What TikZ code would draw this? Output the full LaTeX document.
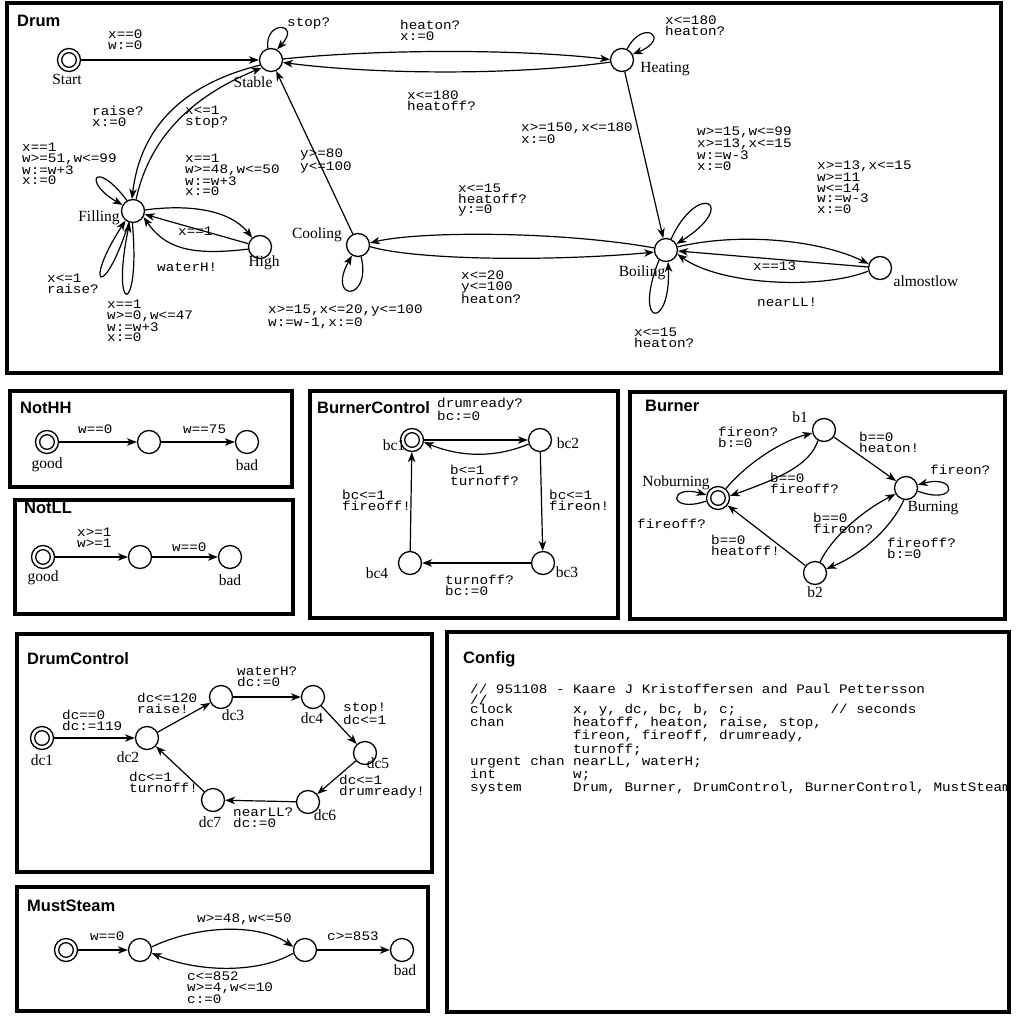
\documentclass[tikz,border=0pt]{standalone}
\usepackage{fontspec}
\setmainfont{Liberation Serif}
\newfontfamily\monof[FakeStretch=1.1]{Liberation Mono}
\newfontfamily\titlef{Liberation Sans}
\usetikzlibrary{arrows.meta}
\newlength\cwd
\setlength\cwd{8.58pt}
\begin{document}
\begin{tikzpicture}[x=1pt,y=-1pt,
  st/.style={circle,draw,line width=1.3pt,minimum size=23pt,inner sep=0pt},
  init/.style={st,path picture={\draw[line width=1.3pt] (path picture bounding box.center) circle[radius=7.3pt];}},
  edge/.style={line width=1.2pt,-{Stealth[length=10pt,width=7.5pt,inset=3pt]}},
  lbl/.style={anchor=north west,inner sep=0pt,align=left,font=\monof\fontsize{13}{10.5}\selectfont},
  nl/.style={inner sep=0pt,font=\fontsize{15.5}{17}\selectfont},
  ttl/.style={anchor=base west,inner sep=0pt,font=\titlef\bfseries\fontsize{16.5}{18}\selectfont},
  panel/.style={line width=4pt}]
\fill[white] (0,0) rectangle (1015,1019);
\useasboundingbox (0,0) rectangle (1015,1019);

% ---------------- panels
\draw[panel] (7,3) rectangle (1001,373);
\draw[panel] (10,391) rectangle (292,487);
\draw[panel] (15,500) rectangle (293,614);
\draw[panel] (310,391) rectangle (618,618);
\draw[panel] (630,392) rectangle (1005,619);
\draw[panel] (17,634) rectangle (432,872);
\draw[panel] (17,887) rectangle (428,1011);
\draw[panel] (446.5,632) rectangle (1009,1012);

\node[ttl] (tDrum) at (17,27) {Drum};
\node[ttl] (tNotHH) at (20,413) {NotHH};
\node[ttl] (tNotLL) at (24,513) {NotLL};
\node[ttl] (tBC) at (317,413) {BurnerControl};
\node[ttl] (tBurner) at (645,411) {Burner};
\node[ttl] (tDC) at (27,664) {DrumControl};
\node[ttl] (tMS) at (27,911) {MustSteam};
\node[ttl] (tConfig) at (463,663) {Config};

% ---------------- Drum
\node[init] (Start) at (69,60) {};
\node[st] (Stable) at (271,60) {};
\node[st] (Heating) at (622,60) {};
\node[st] (Filling) at (133,211) {};
\node[st] (High) at (260,247) {};
\node[st] (Cooling) at (358,245) {};
\node[st] (Boiling) at (666,250) {};
\node[st] (almostlow) at (880,268) {};

\node[nl] (nStart) at (67,79) {Start};
\node[nl] (nStable) at (253,82) {Stable};
\node[nl] (nHeating) at (665,69) {Heating};
\node[nl] (nFilling) at (99,218) {Filling};
\node[nl] (nHigh) at (264,263) {High};
\node[nl] (nCooling) at (317,235) {Cooling};
\node[nl] (nBoiling) at (642,273) {Boiling};
\node[nl] (nalmostlow) at (926,281) {almostlow};

\draw[edge] (Start) -- (Stable);
\draw[edge] (Stable.105) .. controls (264,20) and (302,22) .. (Stable.60);
\draw[edge] (Stable.5) .. controls (380,49) and (520,49) .. (Heating.178);
\draw[edge] (Heating.190) .. controls (520,75) and (380,75) .. (Stable.-12);
\draw[edge] (Heating.65) .. controls (643,18) and (672,38) .. (Heating.28);
\draw[edge] (Heating) -- (Boiling);
\draw[edge] (Cooling) -- (Stable);
\draw[edge] (Boiling.170) .. controls (560,231) and (420,231) .. (Cooling.10);
\draw[edge] (Cooling.-8) .. controls (420,261) and (560,261) .. (Boiling.190);
\draw[edge] (Cooling.-75) .. controls (372,302) and (326,302) .. (Cooling.-120);
\draw[edge] (Boiling.65) .. controls (698,180) and (740,204) .. (Boiling.30);
\draw[edge] (Boiling.-125) .. controls (632,328) and (671,331) .. (Boiling.-80);
\draw[edge] (Boiling.15) .. controls (740,232) and (820,240) .. (almostlow.160);
\draw[edge] (almostlow) -- (Boiling);
\draw[edge] (almostlow.195) .. controls (820,290) and (720,285) .. (Boiling.-20);
\draw[edge] (Stable.205) .. controls (180,85) and (140,130) .. (Filling.95);
\draw[edge] (Filling.75) .. controls (150,135) and (195,95) .. (Stable.220);
\draw[edge] (Filling.120) .. controls (95,158) and (82,182) .. (Filling.150);
\draw[edge] (Filling.-110) .. controls (104,302) and (82,287) .. (Filling.-128);
\draw[edge] (Filling.-93) .. controls (141,318) and (110,316) .. (Filling.-106);
\draw[edge] (Filling.5) .. controls (190,204) and (230,210) .. (High.130);
\draw[edge] (High) -- (Filling);
\draw[edge] (High.190) .. controls (190,256) and (165,248) .. (Filling.-30);

\node[lbl] (l1) at (108,30) {x==0\\w:=0};
\node[lbl] (l2) at (287,18) {stop?};
\node[lbl] (l3) at (92,106) {raise?\\x:=0};
\node[lbl] (l4) at (185,106) {x<=1\\stop?};
\node[lbl] (l5) at (22,143) {x==1\\w>=51,w<=99\\w:=w+3\\x:=0};
\node[lbl] (l6) at (185,154) {x==1\\w>=48,w<=50\\w:=w+3\\x:=0};
\node[lbl] (l7) at (178,227) {x==1};
\node[lbl] (l8) at (157,263) {waterH!};
\node[lbl] (l9) at (47,274) {x<=1\\raise?};
\node[lbl] (l10) at (107,300) {x==1\\w>=0,w<=47\\w:=w+3\\x:=0};
\node[lbl] (l11) at (300,149) {y>=80\\y<=100};
\node[lbl] (l12) at (268,305) {x>=15,x<=20,y<=100\\w:=w-1,x:=0};
\node[lbl] (l13) at (400,20) {heaton?\\x:=0};
\node[lbl] (l14) at (407,91) {x<=180\\heatoff?};
\node[lbl] (l15) at (521,123) {x>=150,x<=180\\x:=0};
\node[lbl] (l16) at (458,184) {x<=15\\heatoff?\\y:=0};
\node[lbl] (l17) at (461,271) {x<=20\\y<=100\\heaton?};
\node[lbl] (l18) at (665,16) {x<=180\\heaton?};
\node[lbl] (l19) at (697,127) {w>=15,w<=99\\x>=13,x<=15\\w:=w-3\\x:=0};
\node[lbl] (l20) at (817,161) {x>=13,x<=15\\w>=11\\w<=14\\w:=w-3\\x:=0};
\node[lbl] (l21) at (753,262) {x==13};
\node[lbl] (l22) at (757,298) {nearLL!};
\node[lbl] (l23) at (634,328) {x<=15\\heaton?};

% ---------------- NotHH
\node[init] (hg) at (47,442) {};
\node[st] (hm) at (149,442) {};
\node[st] (hb) at (247,442) {};
\node[nl] (nhg) at (47,465) {good};
\node[nl] (nhb) at (247,465) {bad};
\draw[edge] (hg) -- (hm);
\draw[edge] (hm) -- (hb);
\node[lbl] (lh1) at (78,425) {w==0};
\node[lbl] (lh2) at (183,425) {w==75};

% ---------------- NotLL
\node[init] (lg) at (43,557) {};
\node[st] (lm) at (140,557) {};
\node[st] (lb) at (230,557) {};
\node[nl] (nlg) at (43,578) {good};
\node[nl] (nlb) at (230,580) {bad};
\draw[edge] (lg) -- (lm);
\draw[edge] (lm) -- (lb);
\node[lbl] (ll1) at (77,528) {x>=1\\w>=1};
\node[lbl] (ll2) at (172,543) {w==0};

% ---------------- BurnerControl
\node[init] (bc1) at (412,440) {};
\node[st] (bc2) at (540,440) {};
\node[st] (bc3) at (543,563) {};
\node[st] (bc4) at (410,563) {};
\node[nl] (nbc1) at (394,445) {bc1};
\node[nl] (nbc2) at (568,443) {bc2};
\node[nl] (nbc3) at (567,572) {bc3};
\node[nl] (nbc4) at (377,573) {bc4};
\draw[edge] (bc1) -- (bc2);
\draw[edge] (bc2.200) .. controls (490,460) and (455,455) .. (bc1.-10);
\draw[edge] (bc2) -- (bc3);
\draw[edge] (bc3) -- (bc4);
\draw[edge] (bc4) -- (bc1);
\node[lbl] (lb1) at (437,398) {drumready?\\bc:=0};
\node[lbl] (lb2) at (450,465) {b<=1\\turnoff?};
\node[lbl] (lb3) at (549,490) {bc<=1\\fireon!};
\node[lbl] (lb4) at (342,490) {bc<=1\\fireoff!};
\node[lbl] (lb5) at (445,575) {turnoff?\\bc:=0};

% ---------------- Burner
\node[st] (b1) at (824,430) {};
\node[init] (Noburning) at (718,498) {};
\node[st] (Burning) at (906,488) {};
\node[st] (b2) at (815,573) {};
\node[nl] (nb1) at (800,417) {b1};
\node[nl] (nNoburning) at (676,483) {Noburning};
\node[nl] (nBurning) at (933,508) {Burning};
\node[nl] (nb2) at (815,592) {b2};
\draw[edge] (Noburning.50) .. controls (750,460) and (785,440) .. (b1.195);
\draw[edge] (b1.-120) .. controls (810,465) and (780,478) .. (Noburning.10);
\draw[edge] (b1) -- (Burning);
\draw[edge] (b2) -- (Noburning);
\draw[edge] (b2.65) .. controls (830,540) and (860,512) .. (Burning.210);
\draw[edge] (Burning.-100) .. controls (890,530) and (860,555) .. (b2.20);
\draw[edge] (Burning.-15) .. controls (958,506) and (958,474) .. (Burning.15);
\draw[edge] (Noburning.195) .. controls (668,514) and (668,484) .. (Noburning.165);
\node[lbl] (lr1) at (718,427) {fireon?\\b:=0};
\node[lbl] (lr2) at (859,432) {b==0\\heaton!};
\node[lbl] (lr3) at (930,465) {fireon?};
\node[lbl] (lr4) at (770,473) {b==0\\fireoff?};
\node[lbl] (lr5) at (637,519) {fireoff?};
\node[lbl] (lr6) at (813,513) {b==0\\fireon?};
\node[lbl] (lr7) at (711,535) {b==0\\heatoff!};
\node[lbl] (lr8) at (887,538) {fireoff?\\b:=0};

% ---------------- DrumControl
\node[init] (dc1) at (42,738) {};
\node[st] (dc2) at (147,738) {};
\node[st] (dc3) at (221,697) {};
\node[st] (dc4) at (313,697) {};
\node[st] (dc5) at (365,753) {};
\node[st] (dc6) at (308,802) {};
\node[st] (dc7) at (213,800) {};
\node[nl] (ndc1) at (42,760) {dc1};
\node[nl] (ndc2) at (128,757) {dc2};
\node[nl] (ndc3) at (233,715) {dc3};
\node[nl] (ndc4) at (312,718) {dc4};
\node[nl] (ndc5) at (378,763) {dc5};
\node[nl] (ndc6) at (325,815) {dc6};
\node[nl] (ndc7) at (210,822) {dc7};
\draw[edge] (dc1) -- (dc2);
\draw[edge] (dc2) -- (dc3);
\draw[edge] (dc3) -- (dc4);
\draw[edge] (dc4) -- (dc5);
\draw[edge] (dc5) -- (dc6);
\draw[edge] (dc6) -- (dc7);
\draw[edge] (dc7) -- (dc2);
\node[lbl] (ld1) at (62,710) {dc==0\\dc:=119};
\node[lbl] (ld2) at (137,693) {dc<=120\\raise!};
\node[lbl] (ld3) at (237,667) {waterH?\\dc:=0};
\node[lbl] (ld4) at (343,703) {stop!\\dc<=1};
\node[lbl] (ld5) at (339,775) {dc<=1\\drumready!};
\node[lbl] (ld6) at (233,808) {nearLL?\\dc:=0};
\node[lbl] (ld7) at (129,772) {dc<=1\\turnoff!};

% ---------------- MustSteam
\node[init] (ms1) at (66,950) {};
\node[st] (ms2) at (140,950) {};
\node[st] (ms3) at (305,950) {};
\node[st] (ms4) at (402,950) {};
\node[nl] (nms4) at (405,970) {bad};
\draw[edge] (ms1) -- (ms2);
\draw[edge] (ms2.15) .. controls (200,924) and (260,924) .. (ms3.165);
\draw[edge] (ms3.195) .. controls (260,973) and (200,973) .. (ms2.-15);
\draw[edge] (ms3) -- (ms4);
\node[lbl] (lm1) at (90,932) {w==0};
\node[lbl] (lm2) at (197,914) {w>=48,w<=50};
\node[lbl] (lm3) at (187,972) {c<=852\\w>=4,w<=10\\c:=0};
\node[lbl] (lm4) at (327,932) {c>=853};

% ---------------- Config
\node[lbl,font=\monof\fontsize{13}{9.55}\selectfont] (cfg) at (470,684) {%
// 951108 - Kaare J Kristoffersen and Paul Pettersson\\
//\\
clock\hspace*{7\cwd}x, y, dc, bc, b, c;\hspace*{11\cwd}// seconds\\
chan\hspace*{8\cwd}heatoff, heaton, raise, stop,\\
\hspace*{12\cwd}fireon, fireoff, drumready,\\
\hspace*{12\cwd}turnoff;\\
urgent chan nearLL, waterH;\\
int\hspace*{9\cwd}w;\\
system\hspace*{6\cwd}Drum, Burner, DrumControl, BurnerControl, MustSteam};
\end{tikzpicture}
\end{document}
